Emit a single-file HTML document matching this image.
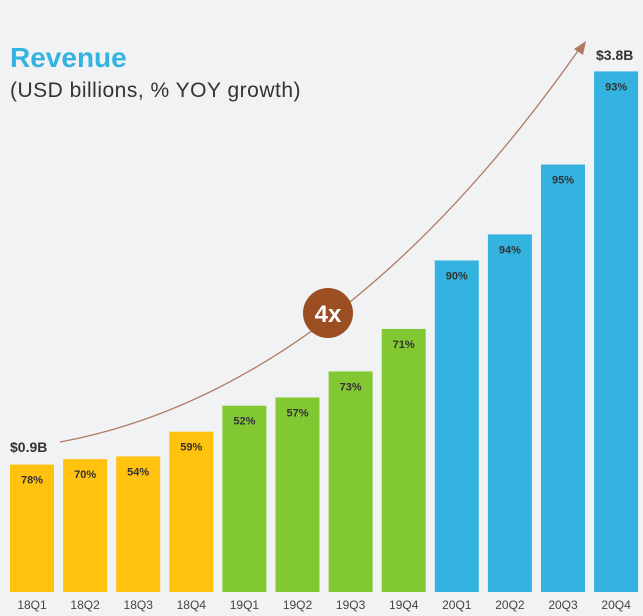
<!DOCTYPE html>
<html><head><meta charset="utf-8"><style>
body{margin:0;background:#f0f2f4;}
svg{display:block;font-family:"Liberation Sans",sans-serif;}
</style></head><body>
<svg id="c" width="643" height="616">
<rect width="643" height="616" fill="#f0f2f4"/>
<text x="10" y="67" font-size="28" font-weight="bold" fill="#35b3e0">Revenue</text>
<text x="10" y="97" font-size="21" letter-spacing="0.5" fill="#333">(USD billions, % YOY growth)</text>
<path d="M60,442 Q340,390 580,48" fill="none" stroke="#b07a62" stroke-width="1.3"/>
<polygon points="586,41 574,49 583,55" fill="#b07a62"/>
<circle cx="328" cy="313" r="25" fill="#9a4e22"/>
<text x="328" y="322" font-size="24" font-weight="bold" fill="#fff" text-anchor="middle">4x</text>
<text x="10" y="452" font-size="14" font-weight="bold" fill="#333">$0.9B</text>
<text x="596" y="60" font-size="14" font-weight="bold" fill="#333">$3.8B</text>
<g id="bars"></g>
</svg>
<script>
const categories=["18Q1","18Q2","18Q3","18Q4","19Q1","19Q2","19Q3","19Q4","20Q1","20Q2","20Q3","20Q4"];
const revenue=[0.93,0.97,0.99,1.17,1.36,1.42,1.61,1.92,2.42,2.61,3.12,3.80];
const growth=["78%","70%","54%","59%","52%","57%","73%","71%","90%","94%","95%","93%"];
const colors=["#ffc20e","#ffc20e","#ffc20e","#ffc20e","#82c832","#82c832","#82c832","#82c832","#34b3e0","#34b3e0","#34b3e0","#34b3e0"];
const NS="http://www.w3.org/2000/svg";
const base=592, pxPerB=137, x0=10, pitch=53.1, bw=44;
const xs=i=>x0+i*pitch;
const ys=v=>base-v*pxPerB;
const g=document.getElementById('bars');
categories.forEach((c,i)=>{
  const r=document.createElementNS(NS,'rect');
  r.setAttribute('x',xs(i));r.setAttribute('y',ys(revenue[i]));
  r.setAttribute('width',bw);r.setAttribute('height',base-ys(revenue[i]));
  r.setAttribute('fill',colors[i]);
  
  
  g.appendChild(r);
  const t=document.createElementNS(NS,'text');
  t.setAttribute('x',xs(i)+bw/2);t.setAttribute('y',ys(revenue[i])+19);
  t.setAttribute('text-anchor','middle');t.setAttribute('font-size','11');
  t.setAttribute('font-weight','bold');t.setAttribute('fill','#333');
  t.textContent=growth[i];
  
  
  g.appendChild(t);
  const l=document.createElementNS(NS,'text');
  l.setAttribute('x',xs(i)+bw/2);l.setAttribute('y',609);
  l.setAttribute('text-anchor','middle');l.setAttribute('font-size','12');
  l.setAttribute('fill','#444');
  l.textContent=c;
  
  
  g.appendChild(l);
});
</script>
</body></html>
